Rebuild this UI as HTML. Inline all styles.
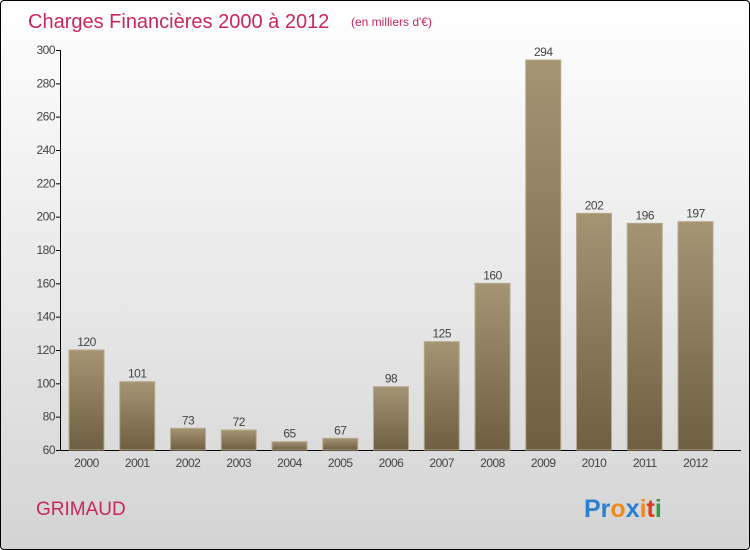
<!DOCTYPE html>
<html><head><meta charset="utf-8"><style>
body{margin:0;}
#c{width:748px;height:548px;border:1px solid #000;border-radius:4px;background:linear-gradient(#ffffff,#d4d4d4);position:relative;overflow:hidden;font-family:"Liberation Sans",sans-serif;}
</style></head><body>
<div id="c">
<svg id="s" width="748" height="548">
<defs><linearGradient id="g" x1="0" y1="0" x2="0" y2="1"><stop offset="0" stop-color="#a59474"/><stop offset="1" stop-color="#6f5f42"/></linearGradient></defs>
<text x="27" y="27" font-size="20" fill="#c8285a" font-family="Liberation Sans">Charges Financières 2000 à 2012</text>
<text x="350" y="25" font-size="12" fill="#c8285a" font-family="Liberation Sans">(en milliers d'€)</text>
<text x="35" y="514" font-size="19" fill="#c8285a" font-family="Liberation Sans">GRIMAUD</text>
<g font-size="25" font-family="Liberation Sans" font-weight="bold">
<text x="583" y="516"><tspan fill="#2a7fd0">Pr</tspan><tspan fill="#f08a1c">o</tspan><tspan fill="#2a7fd0">x</tspan><tspan fill="#f08a1c">i</tspan><tspan fill="#e03a1a">t</tspan><tspan fill="#2aa040">i</tspan></text>
</g>
</svg>
</div>
<script>
const categories=["2000","2001","2002","2003","2004","2005","2006","2007","2008","2009","2010","2011","2012"];
const values=[120,101,73,72,65,67,98,125,160,294,202,196,197];
const yTicks=[60,80,100,120,140,160,180,200,220,240,260,280,300];
const s=document.getElementById('s');
const NS='http://www.w3.org/2000/svg';
const y=v=>449-(v-60)*(400/240);
const x=i=>85-1+i*50.75;
function mk(t,a){const e=document.createElementNS(NS,t);for(const k in a)e.setAttribute(k,a[k]);s.appendChild(e);return e;}
let ax=mk('line',{x1:59.5,y1:49,x2:59.5,y2:450,stroke:'#000'});


let bx=mk('line',{x1:59,y1:449.5,x2:740,y2:449.5,stroke:'#000'});


yTicks.forEach(v=>{
 const l=mk('line',{x1:55,x2:60,y1:y(v)+0.5,y2:y(v)+0.5,stroke:'#000'});
 
 
 const t=mk('text',{x:54,y:y(v)+4,'font-size':12,fill:'#444','text-anchor':'end','letter-spacing':'-0.5'});
 t.textContent=v;
 
 
});
categories.forEach((c,i)=>{
 const cx=x(i)+1.5;
 const r=mk('rect',{x:cx-17.5,y:y(values[i]),width:35,height:449-y(values[i]),fill:'url(#g)',stroke:'#b8a98a','stroke-width':1});
 
 
 const v=mk('text',{x:cx,y:y(values[i])-4,'font-size':12,fill:'#444','text-anchor':'middle','letter-spacing':'-0.5'});
 v.textContent=values[i];
 
 
 const t=mk('text',{x:cx,y:466,'font-size':12,fill:'#444','text-anchor':'middle','letter-spacing':'-0.5'});
 t.textContent=c;
 
 
});
</script>
</body></html>
